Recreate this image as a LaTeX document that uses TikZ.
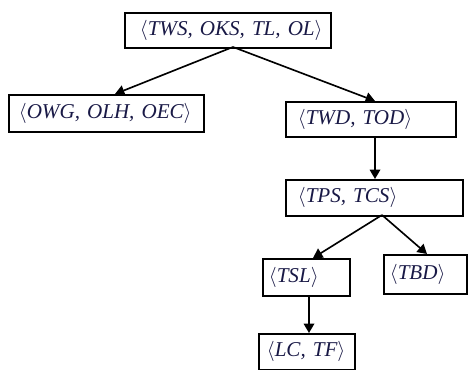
\documentclass[tikz,border=0pt]{standalone}
\usepackage{amsmath}
\usepackage{fontspec}
\setmainfont{Liberation Serif}
\usetikzlibrary{arrows.meta}
\definecolor{tinta}{RGB}{25,25,70}
\newcommand{\tupla}[1]{\mbox{$\langle$#1$\rangle$}}

\begin{document}
\begin{tikzpicture}[x=0.03cm, y=-0.03cm,
    caixa/.style={draw, line width=1.5pt, anchor=north west, align=left,
        text=tinta, inner ysep=0pt, font=\fontsize{18}{20}\selectfont\itshape},
    seta/.style={-{Triangle[length=8pt,width=9pt]}, line width=1.4pt}]

    % Moldura
    \useasboundingbox (0,0) rectangle (468,370);

    % Caixas
    \node[caixa, text width=176*0.03cm, inner xsep=15*0.03cm, minimum height=35*0.03cm] (tws) at (124,12) {\tupla{TWS, OKS, TL, OL}};
    \node[caixa, text width=175*0.03cm, inner xsep=10*0.03cm, minimum height=37*0.03cm] (owg) at (8,94) {\tupla{OWG, OLH, OEC}};
    \node[caixa, text width=146*0.03cm, inner xsep=12*0.03cm, minimum height=35*0.03cm] (twd) at (285,101) {\tupla{TWD, TOD}};
    \node[caixa, text width=153*0.03cm, inner xsep=12*0.03cm, minimum height=36*0.03cm] (tps) at (285,179) {\tupla{TPS, TCS}};
    \node[caixa, text width=75*0.03cm, inner xsep=6*0.03cm, minimum height=37*0.03cm] (tsl) at (262,258) {\tupla{TSL}};
    \node[caixa, text width=71*0.03cm, inner xsep=6*0.03cm, minimum height=39*0.03cm] (tbd) at (383,254) {\tupla{TBD}};
    \node[caixa, text width=80*0.03cm, inner xsep=8*0.03cm, minimum height=36*0.03cm] (lc) at (258,333) {\tupla{LC, TF}};

    % Ligações
    \coordinate (raiz) at (233,47);
    \draw[seta] (raiz) -- (owg.north -| 115,0);
    \draw[seta] (raiz) -- (twd.north -| 375,0);
    \draw[seta] (twd.south -| 375,0) -- (tps.north -| 375,0);
    \coordinate (meio) at (382,215);
    \draw[seta] (meio) -- (tsl.north -| 313,0);
    \draw[seta] (meio) -- (tbd.north -| 427,0);
    \draw[seta] (tsl.south -| 309,0) -- (lc.north -| 309,0);

\end{tikzpicture}
\end{document}
